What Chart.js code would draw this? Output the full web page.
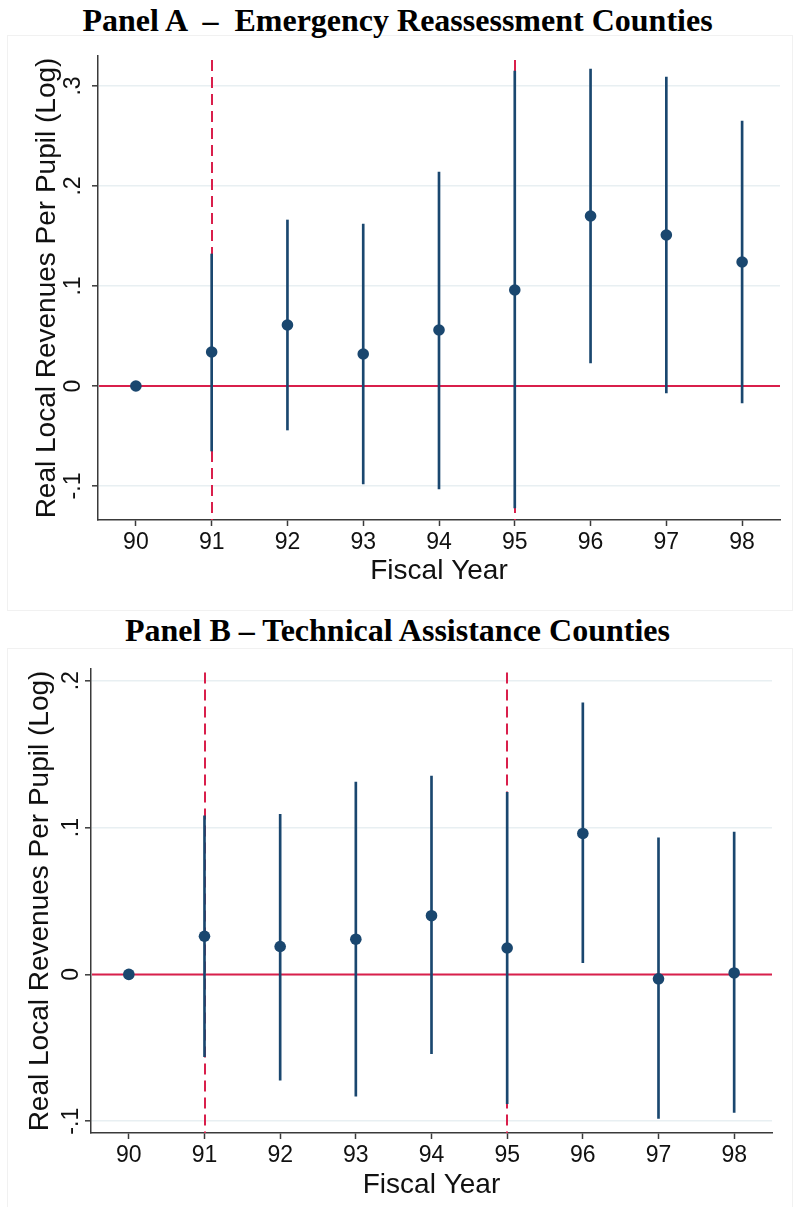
<!DOCTYPE html>
<html><head><meta charset="utf-8">
<script src="https://cdn.jsdelivr.net/npm/chart.js@4"></script>
<style>
html,body{margin:0;padding:0;background:#fff;}
body{width:795px;height:1207px;position:relative;overflow:hidden;}
.title{position:absolute;left:0;width:795px;text-align:center;font-family:'Liberation Serif','Times New Roman',serif;font-weight:bold;font-size:32px;line-height:32px;white-space:pre;color:#000;}
.frame{position:absolute;border:1px solid #f1f1f1;box-sizing:border-box;}
canvas{position:absolute;left:0;}
</style></head><body>
<div class="frame" style="left:7px;top:35px;width:786px;height:576px;"></div>
<div class="frame" style="left:7px;top:648px;width:786px;height:570px;"></div>
<div class="title" style="top:4px;">Panel A  –  Emergency Reassessment Counties</div>
<div class="title" style="top:614px;">Panel B – Technical Assistance Counties</div>
<canvas id="cA" width="795" height="600" style="top:0px;width:795px;height:600px;"></canvas>
<canvas id="cB" width="795" height="607" style="top:600px;width:795px;height:607px;"></canvas>
<script>
// ---- data ----
const years = ['90','91','92','93','94','95','96','97','98'];
const estA = [0, 0.034, 0.061, 0.032, 0.056, 0.096, 0.170, 0.151, 0.124];
const loA  = [null, -0.065, -0.044, -0.098, -0.103, -0.122, 0.023, -0.007, -0.017];
const hiA  = [null, 0.132, 0.166, 0.162, 0.214, 0.315, 0.317, 0.309, 0.265];
const estB = [0, 0.026, 0.019, 0.024, 0.040, 0.018, 0.096, -0.003, 0.001];
const loB  = [null, -0.056, -0.072, -0.083, -0.054, -0.088, 0.008, -0.098, -0.094];
const hiB  = [null, 0.108, 0.109, 0.131, 0.135, 0.124, 0.185, 0.093, 0.097];
const yTicksA = [-0.1, 0, 0.1, 0.2, 0.3];
const yTickLabelsA = ['-.1', '0', '.1', '.2', '.3'];
const yTicksB = [-0.1, 0, 0.1, 0.2];
const yTickLabelsB = ['-.1', '0', '.1', '.2'];
const yRangeA = [-0.134, 0.33];
const yRangeB = [-0.108, 0.208];
const refYears = ['91', '95'];
const refValue = 0;
const yTitle = 'Real Local Revenues Per Pupil (Log)';
const xTitle = 'Fiscal Year';

// ---- styles ----
const BLUE = '#1a476f';
const RED = '#d91f4b';
const AXIS = '#3a3a3a';
const GRID = '#e8eff2';
const SANS = '"Liberation Sans", Arial, Helvetica, sans-serif';

const decor = {
  id: 'decor',
  beforeDatasetsDraw(chart, args, o) {
    const {ctx, chartArea: a, scales: {x, y}} = chart;
    ctx.save();
    ctx.strokeStyle = RED;
    ctx.lineWidth = 2;
    ctx.setLineDash([11, 6]);
    o.refYears.forEach(yr => {
      const px = Math.round(x.getPixelForValue(years.indexOf(yr)));
      ctx.beginPath(); ctx.moveTo(px, a.top + o.refTopGap); ctx.lineTo(px, a.bottom); ctx.stroke();
    });
    ctx.setLineDash([]);
    const py = y.getPixelForValue(o.refValue);
    ctx.beginPath(); ctx.moveTo(a.left + 1, py); ctx.lineTo(a.right, py); ctx.stroke();
    ctx.restore();
  },
  afterDraw(chart, args, o) {
    const {ctx, scales: {y}} = chart;
    ctx.save();
    ctx.font = '23px ' + SANS;
    ctx.fillStyle = '#111';
    ctx.textAlign = 'center';
    ctx.textBaseline = 'middle';
    y.ticks.forEach((t, i) => {
      const py = y.getPixelForValue(t.value);
      ctx.save();
      ctx.translate(o.yLabelX, py);
      ctx.rotate(-Math.PI / 2);
      ctx.fillText(o.yLabels[i], 0, 0);
      ctx.restore();
    });
    ctx.restore();
  }
};

function makeChart(id, est, lo, hi, yTicks, yLabels, yRange, L) {
  const ci = lo.map((v, i) => (v === null ? null : [v, hi[i]]));
  return new Chart(document.getElementById(id), {
    type: 'bar',
    data: {
      labels: years,
      datasets: [
        {type: 'line', data: est, showLine: false, pointRadius: 5.8, pointHoverRadius: 5.8,
         pointBackgroundColor: BLUE, pointBorderWidth: 0, order: 0},
        {type: 'bar', data: ci, backgroundColor: BLUE, borderWidth: 0, barThickness: 2, order: 1}
      ]
    },
    options: {
      responsive: false, animation: false, devicePixelRatio: 1,
      layout: {padding: {top: L.top, right: L.right, left: 0, bottom: 0}},
      plugins: {
        legend: {display: false}, tooltip: {enabled: false},
        decor: {refYears: refYears, refValue: refValue, refTopGap: L.refGap, yLabelX: L.yLabelX, yLabels: yLabels}
      },
      scales: {
        x: {
          type: 'category', offset: true,
          grid: {display: true, drawOnChartArea: false, drawTicks: true, tickLength: 6, tickColor: AXIS, tickWidth: 1.5, offset: false},
          border: {display: true, color: AXIS, width: 1.5},
          ticks: {autoSkip: false, maxRotation: 0, minRotation: 0, padding: 3, color: '#111', font: {family: SANS, size: 23}},
          title: {display: true, text: xTitle, color: '#111', font: {family: SANS, size: 28}, padding: {top: 0, bottom: L.xTitlePad}},
          afterFit: s => { s.height = L.xH; }
        },
        y: {
          type: 'linear', min: yRange[0], max: yRange[1],
          afterBuildTicks: s => { s.ticks = yTicks.map(v => ({value: v})); },
          grid: {display: true, color: GRID, lineWidth: 1.6, drawTicks: true, tickLength: 6, tickColor: AXIS, tickWidth: 1.5},
          border: {display: true, color: AXIS, width: 1.5},
          ticks: {display: false},
          title: {display: true, text: yTitle, color: '#111', font: {family: SANS, size: 28}, padding: {top: L.yTitlePad, bottom: 0}},
          afterFit: s => { s.width = L.yW; }
        }
      }
    },
    plugins: [decor]
  });
}

makeChart('cA', estA, loA, hiA, yTicksA, yTickLabelsA, yRangeA,
  {top: 56, right: 15, xH: 80, yW: 98, refGap: 4, yLabelX: 74, xTitlePad: 12, yTitlePad: 30});
makeChart('cB', estB, loB, hiB, yTicksB, yTickLabelsB, yRangeB,
  {top: 69, right: 23, xH: 74, yW: 91, refGap: 3.5, yLabelX: 72, xTitlePad: 5, yTitlePad: 23});
</script>
</body></html>
